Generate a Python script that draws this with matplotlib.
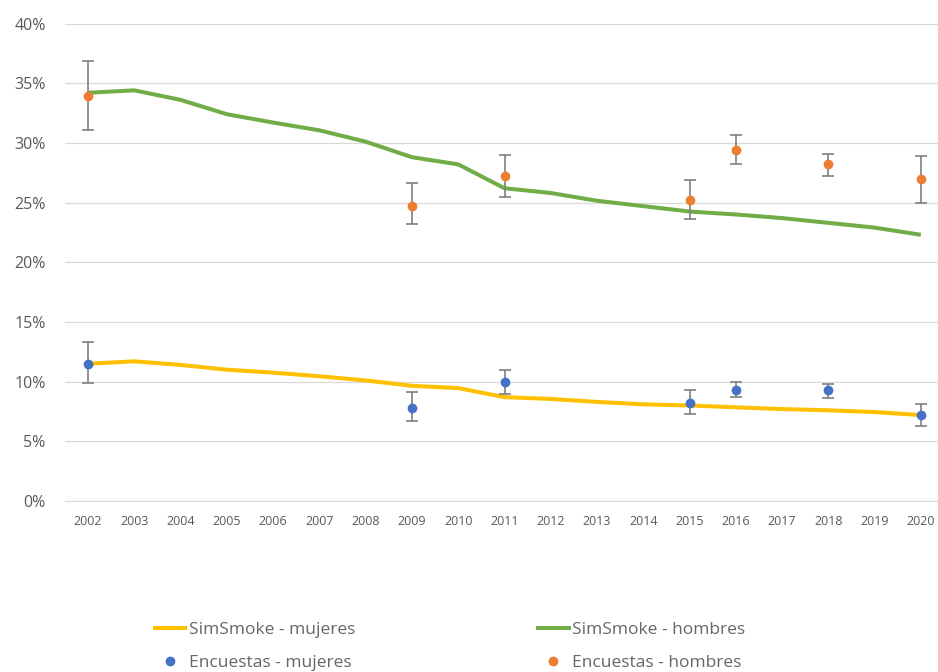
import matplotlib
matplotlib.use("Agg")
import matplotlib.pyplot as plt
from matplotlib.ticker import FuncFormatter

years = [str(y) for y in range(2002, 2021)]
sim_mujeres = [11.5, 11.7, 11.4, 11.0, 10.75, 10.45, 10.1, 9.65, 9.46, 8.7, 8.55, 8.3, 8.1, 8.0, 7.85, 7.7, 7.6, 7.45, 7.2]
sim_hombres = [34.2, 34.4, 33.6, 32.4, 31.7, 31.05, 30.1, 28.8, 28.2, 26.2, 25.8, 25.15, 24.7, 24.25, 24.0, 23.7, 23.3, 22.9, 22.3]

enc_years = ["2002", "2009", "2011", "2015", "2016", "2018", "2020"]
enc_mujeres = [11.5, 7.8, 10.0, 8.2, 9.3, 9.3, 7.2]
enc_mujeres_lo = [9.9, 6.7, 9.0, 7.3, 8.7, 8.6, 6.3]
enc_mujeres_hi = [13.3, 9.1, 11.0, 9.3, 10.0, 9.8, 8.1]
enc_hombres = [33.9, 24.7, 27.2, 25.2, 29.4, 28.2, 27.0]
enc_hombres_lo = [31.1, 23.2, 25.5, 23.6, 28.2, 27.2, 25.0]
enc_hombres_hi = [36.9, 26.6, 29.0, 26.9, 30.7, 29.1, 28.9]

plt.rcParams['font.family'] = ['Open Sans', 'DejaVu Sans']
txt = '#595959'

fig = plt.figure(figsize=(9.38, 6.72), dpi=100)
W, H = 938, 672
ax = fig.add_axes([65 / W, 1 - 501 / H, (938 - 65) / W, (501 - 23.5) / H])

xi = list(range(len(years)))
pos = {y: i for i, y in enumerate(years)}
ex = [pos[y] for y in enc_years]

ax.plot(xi, sim_mujeres, color='#FFC000', lw=2.9, solid_capstyle='butt', label='SimSmoke - mujeres', zorder=3)
ax.plot(xi, sim_hombres, color='#70AD47', lw=2.9, solid_capstyle='butt', label='SimSmoke - hombres', zorder=3)

err_m = [[v - l for v, l in zip(enc_mujeres, enc_mujeres_lo)], [h - v for v, h in zip(enc_mujeres, enc_mujeres_hi)]]
err_h = [[v - l for v, l in zip(enc_hombres, enc_hombres_lo)], [h - v for v, h in zip(enc_hombres, enc_hombres_hi)]]
ax.errorbar(ex, enc_mujeres, yerr=err_m, fmt='none', ecolor='#7f7f7f', elinewidth=1.2, capsize=4, capthick=1.2, zorder=4)
ax.errorbar(ex, enc_hombres, yerr=err_h, fmt='none', ecolor='#7f7f7f', elinewidth=1.2, capsize=4, capthick=1.2, zorder=4)
ax.plot(ex, enc_mujeres, 'o', color='#4472C4', ms=6, ls='none', label='Encuestas - mujeres', zorder=5)
ax.plot(ex, enc_hombres, 'o', color='#ED7D31', ms=6, ls='none', label='Encuestas - hombres', zorder=5)

ax.set_xlim(-0.5, 18.37)
ax.set_ylim(0, 40)
ax.set_yticks(range(0, 41, 5))
ax.yaxis.set_major_formatter(FuncFormatter(lambda v, p: f"{int(v)}%"))
ax.set_xticks(xi)
ax.set_xticklabels(years)
ax.grid(axis='y', color='#d9d9d9', lw=0.9)
ax.set_axisbelow(True)
for s in ['top', 'right', 'left']:
    ax.spines[s].set_visible(False)
ax.spines['bottom'].set_color('#d9d9d9')
ax.tick_params(axis='y', length=0, pad=14, labelsize=11.5, labelcolor=txt)
ax.tick_params(axis='x', length=0, pad=10, labelsize=9, labelcolor=txt)

h, l = ax.get_legend_handles_labels()
order = [0, 2, 1, 3]
leg = fig.legend([h[i] for i in order], [l[i] for i in order], ncol=2,
                 loc='upper left', bbox_to_anchor=(137 / W, 1 - 606 / H),
                 frameon=False, fontsize=12.5, handlelength=2.0, handletextpad=0.1,
                 columnspacing=10.4, labelspacing=1.0, labelcolor='#666666')

fig.savefig('out.png', dpi=100)
